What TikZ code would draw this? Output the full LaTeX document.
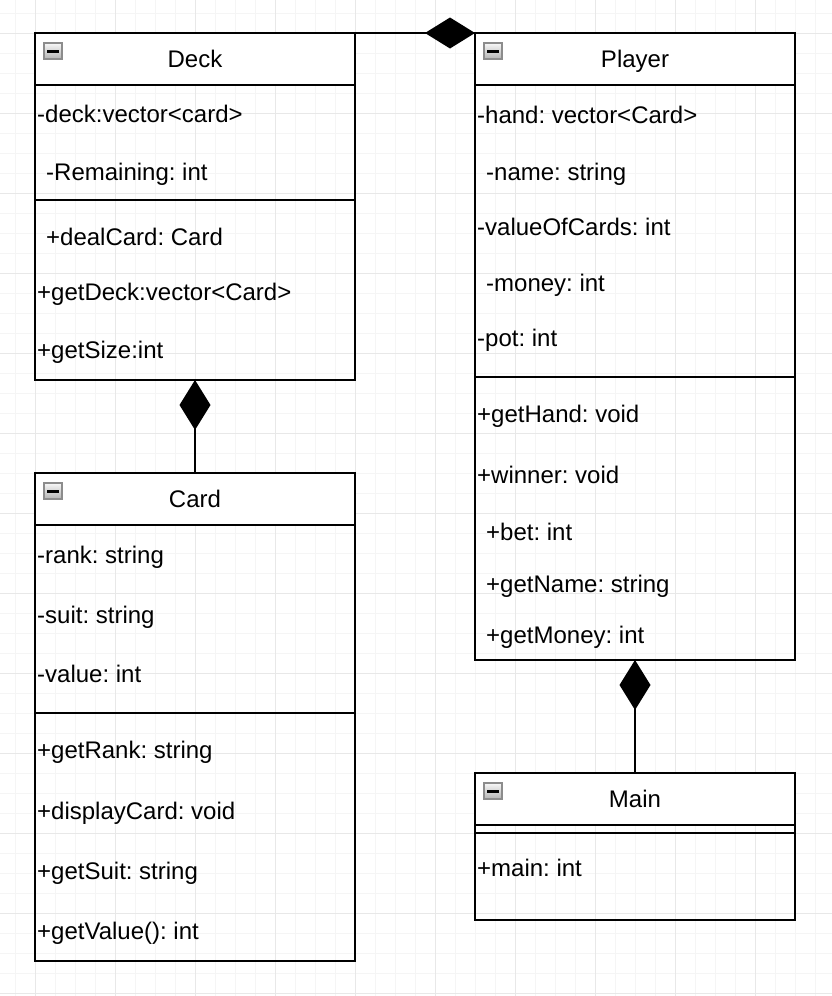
\documentclass[tikz,border=0pt]{standalone}
\usepackage{fontspec}
\setmainfont{Liberation Sans}
\usetikzlibrary{arrows.meta,positioning}

\tikzset{
  classhead/.style={draw, line width=2.2pt, fill=white, minimum width=320pt,
    minimum height=52pt, inner sep=0pt, outer sep=0pt, text height=17pt,
    text depth=0pt, font=\fontsize{24}{28}\selectfont},
  classbody/.style={draw, line width=2.2pt, minimum width=320pt, inner sep=0pt, outer sep=0pt},
  member/.style={anchor=base west, inner sep=0pt, font=\fontsize{24}{28}\selectfont\frenchspacing},
  compose/.style={line width=2.2pt, -{Diamond[length=50pt,width=31pt]}},
  gridminor/.style={draw=black!4, line width=1pt},
  gridmajor/.style={draw=black!9, line width=1pt},
  collapse/.pic={
    \shade[top color=black!3, bottom color=black!30, draw=black!45, line width=1.2pt]
      (0,0) rectangle (18,16);
    \fill[black] (3,7) rectangle (15,9.5);
  }
}

\begin{document}
\begin{tikzpicture}[x=1pt,y=-1pt]
    \useasboundingbox (0,0) rectangle (832,996);
    \fill[white] (0,0) rectangle (832,996);
    % grid
    \foreach \x in {15,35,...,815} \draw[gridminor] (\x,0) -- (\x,996);
    \foreach \y in {13,33,...,993} \draw[gridminor] (0,\y) -- (832,\y);
    \foreach \x in {35,115,...,755} \draw[gridmajor] (\x,0) -- (\x,996);
    \foreach \y in {33,113,...,993} \draw[gridmajor] (0,\y) -- (832,\y);

    % classes
    \node[classhead] (deckhead) at (195,59) {Deck};
    \node[classbody, minimum height=295pt, below=0pt of deckhead] (deckbody) {};
    \draw[line width=2.2pt] ([yshift=-115pt]deckbody.north west) -- ([yshift=-115pt]deckbody.north east);

    \node[classhead] (playerhead) at (635,59) {Player};
    \node[classbody, minimum height=575pt, below=0pt of playerhead] (playerbody) {};
    \draw[line width=2.2pt] ([yshift=-292pt]playerbody.north west) -- ([yshift=-292pt]playerbody.north east);

    \node[classhead] (cardhead) at (195,499) {Card};
    \node[classbody, minimum height=436pt, below=0pt of cardhead] (cardbody) {};
    \draw[line width=2.2pt] ([yshift=-188pt]cardbody.north west) -- ([yshift=-188pt]cardbody.north east);

    \node[classhead] (mainhead) at (635,799) {Main};
    \node[classbody, minimum height=95pt, below=0pt of mainhead] (mainbody) {};
    \draw[line width=2.2pt] ([yshift=-8pt]mainbody.north west) -- ([yshift=-8pt]mainbody.north east);

    \foreach \c in {deckhead,playerhead,cardhead,mainhead}
        \pic at ([shift={(9,10)}]\c.north west) {collapse};

    % members
    \foreach \x/\y/\t [count=\i] in {37/122/{-deck:vector<card>}, 46/180/{-Remaining: int},
        46/245/{+dealCard: Card}, 37/300/{+getDeck:vector<Card>}, 37/358/{+getSize:int}}
        \node[member] (deck-\i) at (\x,\y) {\t};
    \foreach \x/\y/\t [count=\i] in {477/123.5/{-hand: vector<Card>}, 486/180/{-name: string},
        477/235/{-valueOfCards: int}, 486/291/{-money: int}, 477/346/{-pot: int},
        477/422/{+getHand: void}, 477/483/{+winner: void}, 486/540/{+bet: int},
        486/592/{+getName: string}, 486/643/{+getMoney: int}}
        \node[member] (player-\i) at (\x,\y) {\t};
    \foreach \x/\y/\t [count=\i] in {37/563/{-rank: string}, 37/623/{-suit: string},
        37/682/{-value: int}, 37/758/{+getRank: string}, 37/819/{+displayCard: void},
        37/879/{+getSuit: string}, 37/939/{+getValue(): int}}
        \node[member] (card-\i) at (\x,\y) {\t};
    \node[member] (main-1) at (477,876) {+main: int};

    % composition
    \draw[compose] (deckhead.north east) -- (playerhead.north west);
    \draw[compose] (cardhead.north) -- (deckbody.south);
    \draw[compose] (mainhead.north) -- (playerbody.south);
\end{tikzpicture}
\end{document}
